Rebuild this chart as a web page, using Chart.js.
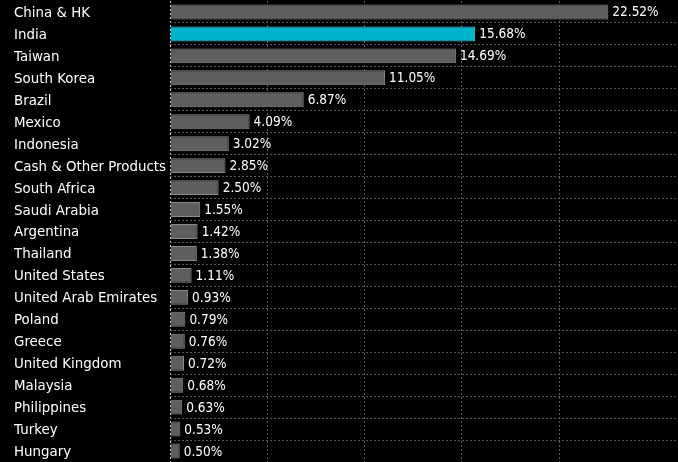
<!DOCTYPE html>
<html lang="en">
<head>
    <meta charset="UTF-8">
    <title>Country weights</title>
    <script src="https://cdn.jsdelivr.net/npm/chart.js"></script>
    <style>
        html, body {
            margin: 0;
            padding: 0;
            background: #000;
        }
        .chart-box {
            position: relative;
            width: 678px;
            height: 462px;
        }
    </style>
</head>
<body>
    <div class="chart-box">
        <canvas id="weightsChart"></canvas>
    </div>
    <script>
        const countries = ['China & HK', 'India', 'Taiwan', 'South Korea', 'Brazil', 'Mexico', 'Indonesia',
            'Cash & Other Products', 'South Africa', 'Saudi Arabia', 'Argentina', 'Thailand', 'United States',
            'United Arab Emirates', 'Poland', 'Greece', 'United Kingdom', 'Malaysia', 'Philippines', 'Turkey', 'Hungary'];
        const weights = [22.52, 15.68, 14.69, 11.05, 6.87, 4.09, 3.02, 2.85, 2.50, 1.55, 1.42, 1.38, 1.11,
            0.93, 0.79, 0.76, 0.72, 0.68, 0.63, 0.53, 0.50];
        const highlight = 'India';

        const fontFamily = "'DejaVu Sans', sans-serif";

        // value labels at the end of each bar
        const valueLabels = {
            id: 'valueLabels',
            afterDatasetsDraw(chart) {
                const ctx = chart.ctx;
                const meta = chart.getDatasetMeta(0);
                ctx.save();
                ctx.fillStyle = '#fff';
                ctx.font = "13.5px 'DejaVu Sans Condensed', 'DejaVu Sans', sans-serif";
                ctx.textAlign = 'left';
                ctx.textBaseline = 'middle';
                meta.data.forEach((bar, i) => {
                    ctx.fillText(weights[i].toFixed(2) + '%', bar.x + 4, bar.y + 1);
                });
                ctx.restore();
            }
        };

        new Chart(document.getElementById('weightsChart'), {
            type: 'bar',
            data: {
                labels: countries,
                datasets: [{
                    data: weights,
                    backgroundColor: countries.map(c => c === highlight ? '#00b4cc' : '#5e5e5e'),
                    borderColor: countries.map(c => c === highlight ? '#55d0e0' : '#8a8a8a'),
                    borderWidth: 1,
                    borderSkipped: 'start',
                    barPercentage: 0.68,
                    categoryPercentage: 1
                }]
            },
            options: {
                indexAxis: 'y',
                responsive: true,
                maintainAspectRatio: false,
                animation: false,
                layout: { padding: { left: 14, right: 0, top: 1, bottom: 0 } },
                plugins: {
                    legend: { display: false },
                    tooltip: { enabled: false }
                },
                scales: {
                    x: {
                        min: 0,
                        max: 26.1,
                        ticks: { display: false, stepSize: 5 },
                        border: { display: false, dash: [2, 2] },
                        grid: {
                            drawTicks: false,
                            color: ctx => ctx.tick && ctx.tick.value === 0 ? '#e0e0e0' : '#5a5a5a',
                            lineWidth: 1
                        },
                        afterFit(scale) {
                            scale.height = 0;
                            scale.paddingLeft = 0;
                            scale.paddingRight = 0;
                        }
                    },
                    y: {
                        border: { display: false, dash: [2, 2] },
                        ticks: {
                            color: '#fff',
                            crossAlign: 'far',
                            font: { family: fontFamily, size: 13.4 },
                            autoSkip: false,
                            padding: 0,
                            labelOffset: 1.5
                        },
                        grid: {
                            offset: true,
                            drawTicks: false,
                            color: ctx => ctx.index === 0 ? 'rgba(0,0,0,0)' : '#5a5a5a'
                        },
                        afterFit(scale) {
                            scale.width = 156;
                            scale.paddingTop = 0;
                            scale.paddingBottom = 0;
                        }
                    }
                }
            },
            plugins: [valueLabels]
        });
    </script>
</body>
</html>
